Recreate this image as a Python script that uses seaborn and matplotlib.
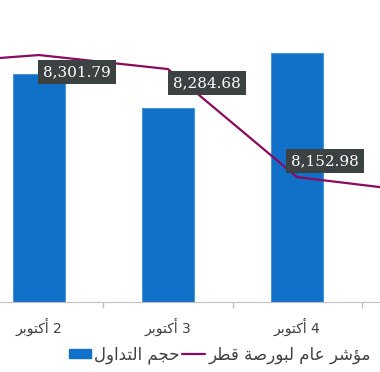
import numpy as np
import pandas as pd
import matplotlib
matplotlib.use("Agg")
import matplotlib.pyplot as plt
from matplotlib.patches import Patch
from matplotlib.lines import Line2D
import seaborn as sns

# chart data (1 and 5 Oct are cut off at the edges, only the line shows there)
days = ["1 أكتوبر", "2 أكتوبر", "3 أكتوبر", "4 أكتوبر", "5 أكتوبر"]
volume = [np.nan, 228, 194, 249, np.nan]
index_close = [8290.0, 8301.79, 8284.68, 8152.98, 8134.0]
labelled = [1, 2, 3]
volume_name = "حجم التداول"
index_name = "مؤشر عام لبورصة قطر"

BAR_COLOR = "#1170c8"
LINE_COLOR = "#8b0a5f"
TEXT_COLOR = "#404040"

# matplotlib does not join Arabic letters, so map them to presentation forms by hand
DUAL = {"ب": 0xFE8F, "ت": 0xFE95, "ج": 0xFE9D, "ح": 0xFEA1, "ش": 0xFEB5, "ص": 0xFEB9,
        "ط": 0xFEC1, "ع": 0xFEC9, "ق": 0xFED5, "ك": 0xFED9, "ل": 0xFEDD, "م": 0xFEE1}
RIGHT = {"ا": 0xFE8D, "أ": 0xFE83, "ؤ": 0xFE85, "ة": 0xFE93, "د": 0xFEA9, "ر": 0xFEAD, "و": 0xFEED}


def shape_word(word):
    out = []
    for i, ch in enumerate(word):
        if ch not in DUAL and ch not in RIGHT:
            out.append(ch)
            continue
        prev_joins = i > 0 and word[i - 1] in DUAL
        next_joins = ch in DUAL and i + 1 < len(word) and (word[i + 1] in DUAL or word[i + 1] in RIGHT)
        base = DUAL.get(ch, RIGHT.get(ch))
        if prev_joins and next_joins:
            form = 3
        elif next_joins:
            form = 2
        elif prev_joins:
            form = 1
        else:
            form = 0
        out.append(chr(base + form))
    return "".join(out[::-1])


def rtl(text):
    words = text.split(" ")[::-1]
    return " ".join(w if w.isdigit() else shape_word(w) for w in words)


sns.set_style("white")
plt.rcParams["font.family"] = ["DejaVu Sans"]

df = pd.DataFrame({"day": days, "volume": volume})

fig = plt.figure(figsize=(3.8, 3.72), dpi=100)
ax = fig.add_axes([0, 0.188, 1, 0.812])

sns.barplot(data=df, x="day", y="volume", order=days, color=BAR_COLOR,
            width=0.4, saturation=1, edgecolor="#4a93d8", linewidth=0.8, ax=ax)
ax.set_ylim(0, 302)

ax2 = ax.twinx()
sns.lineplot(x=np.arange(len(days)), y=index_close, ax=ax2, color=LINE_COLOR, linewidth=1.6)
ax2.set_ylim(8000.6, 8368.9)

offsets = {1: (38, -17), 2: (39, -14), 3: (28, 16)}
for i in labelled:
    v = index_close[i]
    ax2.annotate(f"{v:,.2f}", (i, v), xytext=offsets[i], textcoords="offset pixels",
                 ha="center", va="center", color="white", fontsize=11, fontfamily="DejaVu Serif",
                 bbox=dict(boxstyle="square,pad=0.32", fc="#3c4242", ec="none"))

ax.set_xticks(range(len(days)), labels=[rtl(d) for d in days])
ax.set_xticks(np.arange(len(days) - 1) + 0.5, minor=True)
# only part of the week is in view (set after the ticks, which widen the limits)
for a in (ax, ax2):
    a.set_xlim(0.698, 3.643)
ax.tick_params(axis="x", which="major", length=0, pad=11, labelsize=10, labelcolor=TEXT_COLOR)
ax.tick_params(axis="x", which="minor", length=4, width=1, color="#bfbfbf", bottom=True)
ax.set_yticks([])
ax2.set_yticks([])
ax.set_xlabel("")
ax.set_ylabel("")
ax2.set_ylabel("")
for s in ["left", "right", "top"]:
    ax.spines[s].set_visible(False)
ax.spines["bottom"].set_color("#bfbfbf")
for s in ax2.spines.values():
    s.set_visible(False)

handles = [Patch(color=BAR_COLOR), Line2D([], [], color=LINE_COLOR, linewidth=1.6)]
fig.legend(handles, [rtl(volume_name), rtl(index_name)], loc="center",
           bbox_to_anchor=(0.578, 0.046), ncol=2, frameon=False, fontsize=12,
           handlelength=1.35, handleheight=0.45, handletextpad=0.2, columnspacing=0.15,
           labelcolor=TEXT_COLOR)

fig.savefig("out.png", dpi=100)
